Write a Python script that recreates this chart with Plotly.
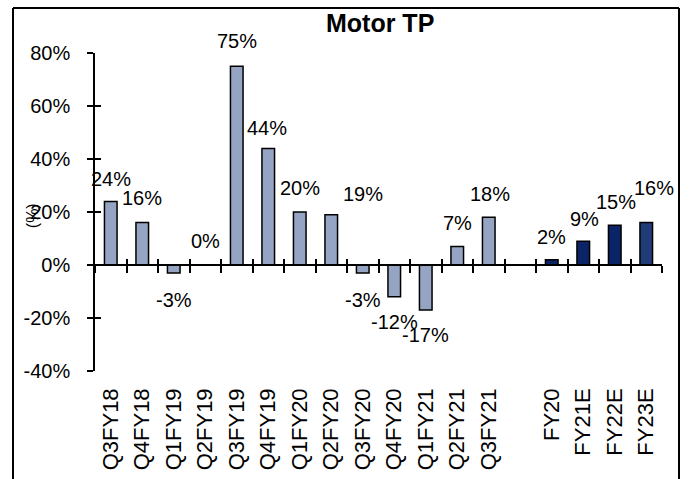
import plotly.graph_objects as go

# ---- data ----
quarters = ["Q3FY18", "Q4FY18", "Q1FY19", "Q2FY19", "Q3FY19", "Q4FY19", "Q1FY20",
            "Q2FY20", "Q3FY20", "Q4FY20", "Q1FY21", "Q2FY21", "Q3FY21"]
quarter_vals = [24, 16, -3, 0, 75, 44, 20, 19, -3, -12, -17, 7, 18]
years = ["FY20", "FY21E", "FY22E", "FY23E"]
year_vals = [2, 9, 15, 16]
y_ticks = [-40, -20, 0, 20, 40, 60, 80]
y_tick_text = [f"{v}%" for v in y_ticks]

# ---- styling / layout helpers ----
FONT = "Liberation Sans, Arial, sans-serif"
labels = quarters + [""] + years
pos = list(range(len(labels)))
q_pos = pos[:len(quarters)]
y_pos = pos[len(quarters) + 1:]
year_colors = ["#0B2467", "#0B2467", "#0B2467", "#1F3B78"]

# label pixel shifts (dx, dy) relative to bar end
q_shift = [(0, 22), (0, 25), (0, -27), (0, 24), (0, 25), (-1, 20), (0, 24),
           (32, 21), (0, -27), (0, -25), (0, -25), (0, 23), (1, 23)]
y_shift = [(0, 23), (1, 22), (1.5, 23), (8, 35)]

fig = go.Figure()
fig.add_trace(go.Bar(x=q_pos, y=quarter_vals, width=0.4,
                     marker=dict(color="#96A4C3", line=dict(color="black", width=1.5)),
                     showlegend=False, hoverinfo="skip"))
fig.add_trace(go.Bar(x=y_pos, y=year_vals, width=0.4,
                     marker=dict(color=year_colors, line=dict(color="black", width=1.5)),
                     showlegend=False, hoverinfo="skip"))

annotations = []
for p, v, (dx, dy) in list(zip(q_pos, quarter_vals, q_shift)) + list(zip(y_pos, year_vals, y_shift)):
    annotations.append(dict(x=p, y=v, xref="x", yref="y", text=f"{v}%", showarrow=False,
                            xshift=dx, yshift=dy, font=dict(size=20, color="black", family=FONT)))

annotations.append(dict(x=0.5035, y=1.094, xref="paper", yref="paper", text="<b>Motor TP</b>",
                        showarrow=False, xanchor="center", yanchor="middle",
                        font=dict(size=25, color="black", family=FONT)))
annotations.append(dict(x=-0.111, y=0.487, xref="paper", yref="paper", text="(%)",
                        showarrow=False, textangle=-90, xanchor="center", yanchor="middle",
                        font=dict(size=16, color="black", family=FONT)))

n = len(labels)
bounds = [i - 0.5 for i in range(n + 1)]

# outer frame (in paper units of the 567x318 plot area)
fx0, fx1 = (13 - 95) / 567, (679 - 95) / 567
fy0, fy1 = (371 - 479) / 318, (371 - 8) / 318
frame = [
    dict(type="line", xref="paper", yref="paper", x0=fx0, x1=fx1, y0=fy1, y1=fy1),
    dict(type="line", xref="paper", yref="paper", x0=fx0, x1=fx0, y0=fy0, y1=fy1),
    dict(type="line", xref="paper", yref="paper", x0=fx1, x1=fx1, y0=fy0, y1=fy1),
]
for s in frame:
    s["line"] = dict(color="black", width=2)
    s["layer"] = "above"

fig.update_layout(
    width=689, height=479,
    margin=dict(l=95, r=27, t=53, b=108),
    paper_bgcolor="white", plot_bgcolor="white",
    barmode="overlay",
    font=dict(family=FONT, size=20, color="black"),
    annotations=annotations,
    xaxis=dict(range=[-0.5, n - 0.5], tickvals=pos, ticktext=labels, tickangle=-90,
               showline=False, ticks="", showgrid=False, zeroline=False, automargin=False,
               tickfont=dict(size=22, family=FONT, color="black"), ticklabelstandoff=12),
    xaxis2=dict(range=[-0.5, n - 0.5], overlaying="x", anchor="free", position=40 / 120,
                tickvals=bounds, showticklabels=False, ticks="outside", ticklen=7,
                tickwidth=1.5, tickcolor="black", showline=True, linecolor="black",
                linewidth=1.5, showgrid=False, zeroline=False, automargin=False),
    xaxis3=dict(range=[-0.5, n - 0.5], overlaying="x", anchor="free", position=40 / 120,
                tickvals=bounds, showticklabels=False, ticks="inside", ticklen=6,
                tickwidth=1.5, tickcolor="black", showline=False, showgrid=False,
                zeroline=False, automargin=False),
    yaxis=dict(range=[-40, 80], tickvals=y_ticks, ticktext=y_tick_text, ticks="outside",
               ticklen=6, tickwidth=1.5, tickcolor="black", showline=True,
               linecolor="black", linewidth=1.5, showgrid=False, zeroline=False,
               automargin=False,
               tickfont=dict(size=20, family=FONT, color="black"), ticklabelstandoff=13),
    yaxis2=dict(range=[-40, 80], overlaying="y", tickvals=y_ticks, showticklabels=False,
                ticks="inside", ticklen=6, tickwidth=1.5, tickcolor="black",
                showline=False, showgrid=False, zeroline=False, automargin=False),
    shapes=frame,
)

# dummy traces so the tick-only axes are drawn
fig.add_trace(go.Scatter(x=[None], y=[None], xaxis="x2", yaxis="y", showlegend=False,
                         hoverinfo="skip"))
fig.add_trace(go.Scatter(x=[None], y=[None], xaxis="x3", yaxis="y2", showlegend=False,
                         hoverinfo="skip"))

# remove the browser's default 8px page margin so the figure fills the window exactly
fig.write_html("out.html", config={"displayModeBar": False},
               post_script="document.body.style.margin='0px';")
